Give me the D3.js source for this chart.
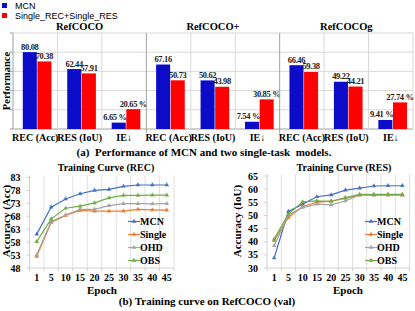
<!DOCTYPE html>
<html><head><meta charset="utf-8">
<script src="https://cdn.jsdelivr.net/npm/d3@7"></script>
<style>
html,body{margin:0;padding:0;background:#fff;}
svg{display:block;}
</style></head>
<body>
<svg id="c" width="415" height="311"></svg>
<script>
// ---------- data ----------
const datasets = ["RefCOCO", "RefCOCO+", "RefCOCOg"];
const metrics = ["REC (Acc)", "RES (IoU)", "IE\u2193"];
const barSeries = ["MCN", "Single_REC+Single_RES"];
const mcnVals = [[80.08, 62.44, 6.65], [67.16, 50.62, 7.54], [66.46, 49.22, 9.41]];
const singleVals = [[70.38, 57.91, 20.65], [50.73, 43.98, 30.85], [59.38, 44.21, 27.74]];
const barGridTicks = [0, 20, 40, 60, 80, 100];

const epochs = ["1", "5", "10", "15", "20", "25", "30", "35", "40", "45"];
const lineSeries = ["MCN", "Single", "OHD", "OBS"];
const recMCN = [61.1, 71.5, 74.7, 76.7, 78.0, 78.4, 79.6, 80.1, 80.1, 80.1];
const recSingle = [52.5, 65.6, 68.3, 70.3, 70.0, 70.0, 70.0, 70.7, 70.5, 70.4];
const recOHD = [53.1, 66.0, 68.5, 70.7, 70.7, 72.1, 72.9, 72.9, 72.8, 72.9];
const recOBS = [58.2, 67.0, 71.1, 71.9, 73.2, 75.1, 76.1, 76.1, 76.2, 76.2];
const resMCN = [33.8, 51.5, 54.3, 57.1, 57.8, 59.6, 60.4, 61.2, 61.3, 61.3];
const resSingle = [40.4, 49.2, 53.4, 55.0, 55.5, 56.5, 57.7, 57.7, 57.7, 57.7];
const resOHD = [38.5, 50.2, 53.0, 54.3, 54.0, 55.5, 57.8, 57.8, 57.9, 57.8];
const resOBS = [41.0, 50.5, 55.2, 55.5, 55.3, 56.8, 58.0, 58.0, 58.0, 58.0];
const recTicks = [48, 53, 58, 63, 68, 73, 78, 83];
const resTicks = [30, 35, 40, 45, 50, 55, 60, 65];

// ---------- style ----------
const serif = "'Liberation Serif','Times New Roman',serif";
const sans = "'Liberation Sans',Arial,sans-serif";
const barColors = ["#0c0cc8", "#ff0000"];
const lineColors = ["#4472c4", "#ed7d31", "#a5a5a5", "#70ad47"];

const svg = d3.select("#c");

// ---------- legend (top) ----------
const leg = svg.append("g");
barSeries.forEach((s, i) => {
  leg.append("rect").attr("x", 2).attr("y", 3 + i * 10).attr("width", 5).attr("height", 5).attr("fill", barColors[i]);
  leg.append("text").attr("x", 15).attr("y", 8.5 + i * 10).attr("font-family", sans).attr("font-size", 9)
    .attr("fill", "#000").text(s);
});

// ---------- bar chart ----------
const bTop = 33, bBot = 129, bLeft = 13, bRight = 413;
const yB = d3.scaleLinear().domain([0, 100]).range([bBot, bTop]);
const xPanel = d3.scaleBand().domain(datasets).range([bLeft, bRight]);
const xMetric = d3.scaleBand().domain(metrics).range([0, xPanel.bandwidth()]);
const xSer = d3.scaleBand().domain(barSeries).range([0, xMetric.bandwidth()]).paddingInner(0.04).paddingOuter(0.54).align(0.62);

const gB = svg.append("g");
gB.selectAll("line.hg").data(barGridTicks).join("line")
  .attr("x1", bLeft).attr("x2", bRight).attr("y1", d => yB(d)).attr("y2", d => yB(d))
  .attr("stroke", d => d === 0 ? "#a0a0a0" : "#d9d9d9").attr("stroke-width", 1);
gB.selectAll("line.yt").data(barGridTicks).join("line")
  .attr("x1", bLeft - 3).attr("x2", bLeft).attr("y1", d => yB(d)).attr("y2", d => yB(d))
  .attr("stroke", "#a0a0a0");
gB.append("line").attr("x1", bLeft).attr("x2", bLeft).attr("y1", bTop).attr("y2", bBot).attr("stroke", "#a0a0a0");
gB.append("line").attr("x1", bRight).attr("x2", bRight).attr("y1", bTop).attr("y2", bBot).attr("stroke", "#d9d9d9");

datasets.forEach((ds, p) => {
  const px = xPanel(ds);
  const g = gB.append("g").attr("transform", `translate(${px},0)`);
  metrics.forEach((m, j) => {
    if (j > 0) g.append("line").attr("x1", xMetric(m)).attr("x2", xMetric(m)).attr("y1", bTop).attr("y2", bBot)
      .attr("stroke", "#d9d9d9");
  });
  if (p > 0) g.append("line").attr("x1", 0).attr("x2", 0).attr("y1", bTop).attr("y2", bBot + 4)
    .attr("stroke", "#a0a0a0");
  g.append("text").attr("x", xPanel.bandwidth() / 2).attr("y", 30).attr("text-anchor", "middle")
    .attr("font-family", serif).attr("font-weight", "bold").attr("font-size", 10.5).text(ds);
  metrics.forEach((m, j) => {
    const vals = [mcnVals[p][j], singleVals[p][j]];
    const isIE = j === 2;
    vals.forEach((v, k) => {
      const s = barSeries[k];
      const x = xMetric(m) + xSer(s);
      const w = xSer.bandwidth();
      g.append("rect").attr("x", x).attr("y", yB(v)).attr("width", w).attr("height", yB(0) - yB(v))
        .attr("fill", barColors[k]);
      const label = isIE ? v.toFixed(2) + " %" : v.toFixed(2);
      const t = g.append("text").attr("y", yB(v) - 2.5).attr("font-family", serif).attr("font-weight", "bold")
        .attr("font-size", 8.5).attr("letter-spacing", -0.35).attr("fill", "#222").text(label);
      if (isIE && k === 0) t.attr("x", x + w + 1).attr("text-anchor", "end");
      else t.attr("x", x + w / 2).attr("text-anchor", "middle");
    });
    g.append("text").attr("x", xMetric(m) + xMetric.bandwidth() / 2).attr("y", 141).attr("text-anchor", "middle")
      .attr("font-family", serif).attr("font-weight", "bold").attr("font-size", 10).text(m);
  });
});
svg.append("text").attr("transform", `translate(9.5,${(bTop + bBot) / 2}) rotate(-90)`).attr("text-anchor", "middle")
  .attr("font-family", serif).attr("font-weight", "bold").attr("font-size", 10.5).text("Performance");
svg.append("text").attr("x", 204).attr("y", 156).attr("text-anchor", "middle")
  .style("white-space", "pre")
  .attr("font-family", serif).attr("font-weight", "bold").attr("font-size", 11)
  .text("(a)  Performance of MCN and two single-task  models.");

// ---------- line charts ----------
function lineChart(opt) {
  const { x0, x1, yTopPx, yBotPx, domain, ticks, series, title, titleX, ylab, ylabX, epochX, legX } = opt;
  const g = svg.append("g");
  const x = d3.scaleBand().domain(epochs).range([x0, x1]);
  const y = d3.scaleLinear().domain(domain).range([yBotPx, yTopPx]);
  const bounds = epochs.map(e => x(e)).concat([x1]);
  g.selectAll("line.vg").data(bounds.slice(1)).join("line")
    .attr("x1", d => d).attr("x2", d => d).attr("y1", yTopPx - 2).attr("y2", yBotPx)
    .attr("stroke", "#e0e0e0");
  g.append("line").attr("x1", x0).attr("x2", x1).attr("y1", yBotPx).attr("y2", yBotPx).attr("stroke", "#d0d0d0");
  g.selectAll("line.xt").data(bounds).join("line")
    .attr("x1", d => d).attr("x2", d => d).attr("y1", yBotPx).attr("y2", yBotPx + 3).attr("stroke", "#d0d0d0");
  g.append("line").attr("x1", x0).attr("x2", x0).attr("y1", yTopPx - 2).attr("y2", yBotPx).attr("stroke", "#d0d0d0");
  g.selectAll("line.yt").data(ticks).join("line")
    .attr("x1", x0 - 3).attr("x2", x0).attr("y1", d => y(d)).attr("y2", d => y(d)).attr("stroke", "#d0d0d0");
  g.selectAll("text.yl").data(ticks).join("text")
    .attr("x", x0 - 9).attr("y", d => y(d) + 3.5).attr("text-anchor", "end")
    .attr("font-family", serif).attr("font-weight", "bold").attr("font-size", 10).text(d => d);
  g.selectAll("text.xl").data(epochs).join("text")
    .attr("x", d => x(d) + x.bandwidth() / 2).attr("y", 281).attr("text-anchor", "middle")
    .attr("font-family", serif).attr("font-weight", "bold").attr("font-size", 10).text(d => d);
  g.append("text").attr("x", epochX).attr("y", 293.5).attr("text-anchor", "middle")
    .attr("font-family", serif).attr("font-weight", "bold").attr("font-size", 11).text("Epoch");
  g.append("text").attr("x", titleX).attr("y", 171).attr("text-anchor", "middle")
    .attr("font-family", serif).attr("font-weight", "bold").attr("font-size", 10).text(title);
  g.append("text").attr("transform", `translate(${ylabX},221) rotate(-90)`).attr("text-anchor", "middle")
    .attr("font-family", serif).attr("font-weight", "bold").attr("font-size", 11).text(ylab);
  const tri = d3.symbol().type(d3.symbolTriangle).size(9);
  const line = d3.line().x((d, i) => x(epochs[i]) + x.bandwidth() / 2).y(d => y(d));
  series.forEach((vals, k) => {
    g.append("path").attr("d", line(vals)).attr("fill", "none").attr("stroke", lineColors[k]).attr("stroke-width", 1.2);
    g.selectAll(null).data(vals).join("path")
      .attr("transform", (d, i) => `translate(${x(epochs[i]) + x.bandwidth() / 2},${y(d)})`)
      .attr("d", tri).attr("fill", lineColors[k]);
  });
  lineSeries.forEach((s, k) => {
    const ly = 221.5 + k * 13;
    g.append("line").attr("x1", legX).attr("x2", legX + 12).attr("y1", ly).attr("y2", ly)
      .attr("stroke", lineColors[k]).attr("stroke-width", 1.2);
    g.append("path").attr("transform", `translate(${legX + 6},${ly})`).attr("d", tri).attr("fill", lineColors[k]);
    g.append("text").attr("x", legX + 12).attr("y", ly + 3.5).attr("font-family", serif).attr("font-weight", "bold")
      .attr("font-size", 10).text(s);
  });
}

lineChart({
  x0: 29.5, x1: 174, yTopPx: 177.5, yBotPx: 268, domain: [48, 83], ticks: recTicks,
  series: [recMCN, recSingle, recOHD, recOBS], title: "Training Curve (REC)", titleX: 106,
  ylab: "Accuracy (Acc)", ylabX: 9.5, epochX: 102, legX: 128
});
lineChart({
  x0: 267, x1: 409.5, yTopPx: 176, yBotPx: 268, domain: [30, 65], ticks: resTicks,
  series: [resMCN, resSingle, resOHD, resOBS], title: "Training Curve (RES)", titleX: 344,
  ylab: "Accuracy (IoU)", ylabX: 241, epochX: 348, legX: 365
});

svg.append("text").attr("x", 207).attr("y", 305).attr("text-anchor", "middle")
  .attr("font-family", serif).attr("font-weight", "bold").attr("font-size", 11)
  .text("(b) Training curve on RefCOCO (val)");
</script>
</body></html>
